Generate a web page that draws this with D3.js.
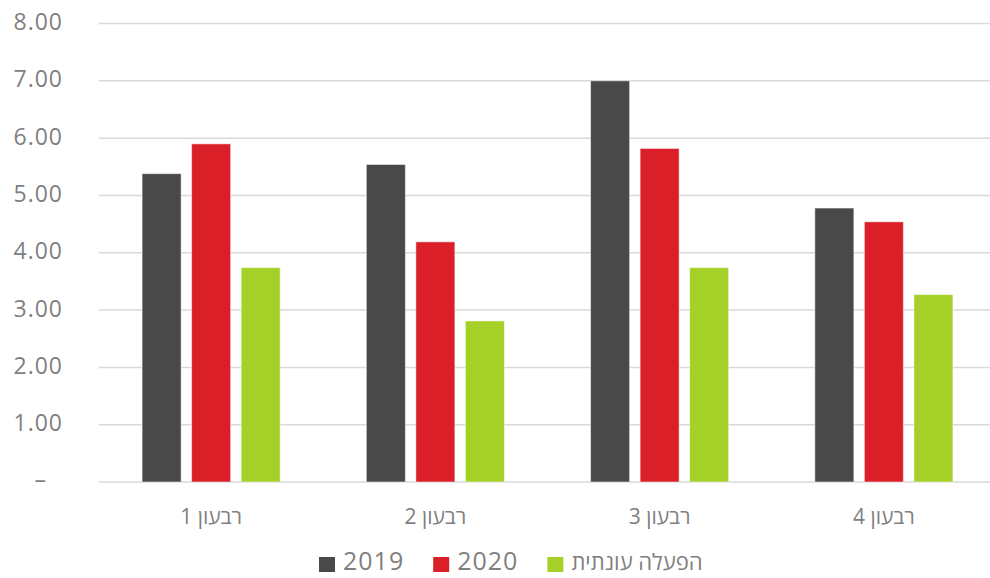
<!DOCTYPE html>
<html>
<head>
<meta charset="utf-8">
<script src="https://cdn.jsdelivr.net/npm/d3@7"></script>
<style>
  body { margin: 0; background: #fff; }
  svg { display: block; }
  text { font-family: "Open Sans", sans-serif; fill: #7f7f7f; }
</style>
</head>
<body>
<div id="chart"></div>
<script>
// quarters and series
const quarters = ["רבעון 1", "רבעון 2", "רבעון 3", "רבעון 4"];
const seriesNames = ["2019", "2020", "הפעלה עונתית"];
const values2019 = [5.38, 5.54, 7.00, 4.78];
const values2020 = [5.90, 4.19, 5.82, 4.54];
const valuesSeasonal = [3.74, 2.81, 3.74, 3.27];
const seriesColors = ["#494949", "#da1f28", "#a4d027"];
const yTicks = [0, 1, 2, 3, 4, 5, 6, 7, 8];

const width = 990, height = 578;
const margin = {top: 23, right: -6, bottom: 96, left: 99};

const svg = d3.select("#chart").append("svg")
    .attr("width", width)
    .attr("height", height);

const seriesValues = [values2019, values2020, valuesSeasonal];
const rows = quarters.map((q, i) => ({
    quarter: q,
    vals: seriesNames.map((s, j) => ({series: s, value: seriesValues[j][i], color: seriesColors[j]}))
}));

const x0 = d3.scaleBand()
    .domain(quarters)
    .range([margin.left, width - margin.right]);

const x1 = d3.scaleBand()
    .domain(seriesNames)
    .range([0, x0.bandwidth()])
    .paddingInner(0.212)
    .paddingOuter(0.87);

const y = d3.scaleLinear()
    .domain([0, 8])
    .range([height - margin.bottom, margin.top + 0.5]);

// gridlines
svg.append("g")
    .selectAll("line")
    .data(yTicks)
    .join("line")
    .attr("x1", margin.left)
    .attr("x2", width)
    .attr("y1", d => y(d))
    .attr("y2", d => y(d))
    .attr("stroke", "#d9d9d9")
    .attr("stroke-width", 1.5);

// y labels
svg.append("g")
    .selectAll("text")
    .data(yTicks)
    .join("text")
    .attr("x", d => d === 0 ? 47 : 63)
    .attr("y", d => y(d))
    .attr("dy", "0.28em")
    .attr("text-anchor", "end")
    .attr("font-size", 23)
    .attr("letter-spacing", 1)
    .text(d => d === 0 ? "–" : d3.format(".2f")(d));

// bars
svg.append("g")
    .selectAll("g")
    .data(rows)
    .join("g")
    .attr("transform", d => `translate(${x0(d.quarter)},0)`)
    .selectAll("rect")
    .data(d => d.vals)
    .join("rect")
    .attr("x", d => x1(d.series))
    .attr("width", x1.bandwidth())
    .attr("y", d => y(d.value))
    .attr("height", d => y(0) - y(d.value))
    .attr("fill", d => d.color)
    .attr("stroke", "#ffffff")
    .attr("stroke-opacity", 0.5)
    .attr("stroke-width", 1);

// x labels
svg.append("g")
    .selectAll("text")
    .data(quarters)
    .join("text")
    .attr("x", d => x0(d) + x0.bandwidth() / 2)
    .attr("y", 524)
    .attr("text-anchor", "middle")
    .attr("font-size", 21)
    .text(d => d);

// legend
const legend = svg.append("g");
const items = legend.selectAll("g")
    .data(seriesNames)
    .join("g");
items.append("rect")
    .attr("width", 16)
    .attr("height", 15)
    .attr("y", 557)
    .attr("fill", (d, i) => seriesColors[i]);
items.append("text")
    .attr("x", 24)
    .attr("y", 570)
    .attr("font-size", (d, i) => i === 2 ? 22 : 25)
    .attr("letter-spacing", (d, i) => i === 2 ? 0 : 1)
    .text(d => d);

let cx = 319;
items.each(function () {
    const g = d3.select(this);
    g.attr("transform", `translate(${cx},0)`);
    const w = g.select("text").node().getComputedTextLength();
    cx += 24 + w + 29;
});
</script>
</body>
</html>
